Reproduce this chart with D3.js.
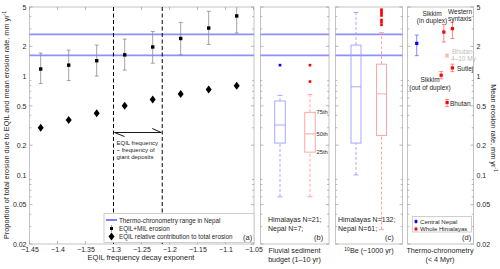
<!DOCTYPE html>
<html><head><meta charset="utf-8">
<script src="https://cdn.jsdelivr.net/npm/d3@7"></script>
<style>body{margin:0;background:#fff}text{font-family:"Liberation Sans",Arial,sans-serif;fill:#262626}</style>
</head><body><svg id="c" width="500" height="269"></svg>
<script>
// ---------- data ----------
const exponents = [-1.43, -1.38, -1.33, -1.28, -1.23, -1.18, -1.13, -1.08];
const eqilMilMean = [1.18, 1.29, 1.43, 1.64, 1.97, 2.40, 3.06, 4.06];
const eqilMilLow  = [0.84, 0.90, 1.00, 1.15, 1.35, 1.64, 2.09, 2.73];
const eqilMilHigh = [1.71, 1.83, 2.06, 2.37, 2.83, 3.49, 4.52, 5.20];
const eqilContribution = [0.30, 0.36, 0.42, 0.50, 0.58, 0.66, 0.73, 0.80];
const giantDepositRange = [-1.30, -1.213];
const thermoNepalRange = [1.62, 2.64];
const xTicks = [-1.45, -1.4, -1.35, -1.3, -1.25, -1.2, -1.15, -1.1, -1.05];
const yTicks = [0.02, 0.05, 0.1, 0.2, 0.5, 1, 2, 5];
const groups = ["Nepal", "Himalayas"];
// box stats: [whiskerLow, q1, median, q3, whiskerHigh]
const fluvialNepal = [0.06, 0.21, 0.32, 0.56, 0.64];
const fluvialHimalaya = [0.06, 0.17, 0.26, 0.43, 0.65];
const fluvialNepalOutliers = [1.29];
const fluvialHimalayaOutliers = [1.29, 0.88];
const beNepal = [0.10, 0.21, 0.78, 2.06, 4.41];
const beHimalaya = [0.028, 0.25, 0.66, 1.32, 2.75];
const beNepalOutliers = [];
const beHimalayaOutliers = [4.7, 4.5, 4.3, 4.1, 3.7, 3.5, 3.3];
const thermoSites = ["Central Nepal", "Sikkim (out of duplex)", "Sikkim (in duplex)", "Bhutan", "Bhutan 4–10 My", "Western syntaxis", "Sutlej"];
const thermoSlot = [0.14, 0.51, 0.55, 0.60, 0.60, 0.68, 0.68];
const thermoMean = [2.14, 1.02, 2.79, 0.54, 1.61, 3.02, 1.21];
const thermoLow  = [1.61, 0.94, 2.21, 0.49, 1.55, 2.40, 1.11];
const thermoHigh = [2.60, 1.11, 3.33, 0.58, 1.68, 3.52, 1.32];
const thermoGroup = ["Nepal", "Himalayas", "Himalayas", "Himalayas", "faded", "Himalayas", "Himalayas"];

// ---------- layout ----------
const svg = d3.select("#c");
const yT = 7, yB = 244;
const P = {a:[29.5,254], b:[260.5,329], c:[335.5,402.5], d:[407.5,473.5]};
const y = d3.scaleLog().domain([0.02, 5]).range([yB, yT]);
const xa = d3.scaleLinear().domain([-1.45, -1.05]).range([29.5, 253.5]);
const frame = "#c4c4c4";
const blueLine = "#8f8fff", blueBox = "#9d9dff", redBox = "#ff9d9d";
const colors = {Nepal:"#0000ff", Himalayas:"#ff0000", faded:"#ffb4b4"};
const clipId = k => "clip"+k;
const defs = svg.append("defs");
Object.entries(P).forEach(([k,[x0,x1]]) => {
  defs.append("clipPath").attr("id", clipId(k)).append("rect").attr("x",x0).attr("y",yT).attr("width",x1-x0).attr("height",yB-yT);
});

const minor = [];
[0.01,0.1,1].forEach(d => { for (let i=2;i<=9;i++){ const v=+(d*i).toFixed(3); if (v>=0.02 && v<=5) minor.push(v);} });

function frameBox(k, leftTicks, rightTicks) {
  const [x0,x1] = P[k];
  const g = svg.append("g");
  g.append("rect").attr("x",x0).attr("y",yT).attr("width",x1-x0).attr("height",yB-yT)
    .attr("fill","none").attr("stroke",frame).attr("stroke-width",1);
  const tk = (x, dir) => {
    minor.forEach(v => g.append("line").attr("x1",x).attr("x2",x+dir*(yTicks.includes(v)?3:1.8))
      .attr("y1",y(v)).attr("y2",y(v)).attr("stroke","#9a9a9a").attr("stroke-width",0.7));
  };
  if (leftTicks) tk(x0, 1);
  if (rightTicks) tk(x1, -1);
  return g;
}
function thermoLines(k) {
  const [x0,x1] = P[k];
  thermoNepalRange.forEach(v => svg.append("line").attr("x1",x0).attr("x2",x1).attr("y1",y(v)).attr("y2",y(v))
    .attr("stroke",blueLine).attr("stroke-width",1.6));
}
function txt(x, yy, s, size, anchor, fill) {
  const t = svg.append("text").attr("x",x).attr("y",yy).attr("font-size",size).text(s);
  if (anchor) t.attr("text-anchor",anchor);
  if (fill) t.style("fill",fill);
  return t;
}

// ---------- panel a ----------
frameBox("a", true, true);
const yAxis = d3.axisLeft(y).tickValues(yTicks).tickFormat(d => d3.format("~g")(d)).tickSize(0).tickPadding(3);
svg.append("g").attr("transform",`translate(${P.a[0]},0)`).call(yAxis)
  .call(g => g.select(".domain").remove())
  .call(g => g.selectAll("text").attr("font-size",7).style("fill","#262626").style("font-family","Liberation Sans, Arial, sans-serif"));
const xAxis = d3.axisBottom(xa).tickValues(xTicks).tickFormat(d => d3.format("~g")(d)).tickSize(0).tickPadding(3);
svg.append("g").attr("transform",`translate(0,${yB})`).call(xAxis)
  .call(g => g.select(".domain").remove())
  .call(g => g.selectAll("text").attr("font-size",7).style("fill","#262626").style("font-family","Liberation Sans, Arial, sans-serif"));
xTicks.forEach(v => {
  svg.append("line").attr("x1",xa(v)).attr("x2",xa(v)).attr("y1",yB).attr("y2",yB-3).attr("stroke","#9a9a9a").attr("stroke-width",0.7);
  svg.append("line").attr("x1",xa(v)).attr("x2",xa(v)).attr("y1",yT).attr("y2",yT+3).attr("stroke","#9a9a9a").attr("stroke-width",0.7);
});
thermoLines("a");
giantDepositRange.forEach(v => svg.append("line").attr("x1",xa(v)).attr("x2",xa(v)).attr("y1",yT).attr("y2",yB)
  .attr("stroke","#000").attr("stroke-width",1).attr("stroke-dasharray","4,2.5"));
const ay = 132.5, ax0 = xa(giantDepositRange[0])+1, ax1 = xa(giantDepositRange[1])-1;
svg.append("path").attr("d",`M${ax0+10},${ay+4}L${ax0},${ay}L${ax1},${ay}L${ax1-9},${ay-4}`)
  .attr("fill","none").attr("stroke","#000").attr("stroke-width",0.9);
txt(ax0+2, 145, "EQIL frequency", 6);
txt(ax0+2, 152, "~  frequency of", 6);
txt(ax0+2, 159, "giant deposits", 6);
const ga = svg.append("g").attr("clip-path",`url(#${clipId("a")})`);
exponents.forEach((e,i) => {
  const x = xa(e);
  ga.append("line").attr("x1",x).attr("x2",x).attr("y1",y(eqilMilLow[i])).attr("y2",y(eqilMilHigh[i])).attr("stroke","#8a8a8a").attr("stroke-width",0.8);
  [eqilMilLow[i], eqilMilHigh[i]].forEach(v => ga.append("line").attr("x1",x-2).attr("x2",x+2).attr("y1",y(v)).attr("y2",y(v)).attr("stroke","#8a8a8a").attr("stroke-width",0.8));
  ga.append("rect").attr("x",x-1.7).attr("y",y(eqilMilMean[i])-1.7).attr("width",3.4).attr("height",3.4).attr("fill","#000");
  const cy = y(eqilContribution[i]);
  ga.append("path").attr("d",`M${x},${cy-4}L${x+3},${cy}L${x},${cy+4}L${x-3},${cy}Z`).attr("fill","#000");
});
svg.append("rect").attr("x",104).attr("y",213.5).attr("width",150).attr("height",29).attr("fill","#fff").attr("stroke",frame).attr("stroke-width",0.8);
svg.append("line").attr("x1",106).attr("x2",117).attr("y1",220).attr("y2",220).attr("stroke","#0000ff").attr("stroke-width",1);
txt(119, 222.5, "Thermo-chronometry range in Nepal", 6.3);
svg.append("line").attr("x1",111.5).attr("x2",111.5).attr("y1",225).attr("y2",232).attr("stroke","#8a8a8a").attr("stroke-width",0.8);
svg.append("rect").attr("x",110).attr("y",227).attr("width",3).attr("height",3).attr("fill","#000");
txt(119, 231, "EQIL+MIL erosion", 6.3);
svg.append("path").attr("d","M111.5,232.5L114.5,236.5L111.5,240.5L108.5,236.5Z").attr("fill","#000");
txt(119, 238.8, "EQIL relative contribution to total erosion", 6.3);
txt(243, 239.5, "(a)", 7.5);

// ---------- box panels ----------
function boxPanel(k, stats, outliers, xs, cols, w) {
  frameBox(k, true, true);
  thermoLines(k);
  const g = svg.append("g").attr("clip-path",`url(#${clipId(k)})`);
  groups.forEach((grp,i) => {
    const s = stats[i], x = xs(grp), c = cols[i];
    g.append("line").attr("x1",x).attr("x2",x).attr("y1",y(s[0])).attr("y2",y(s[1])).attr("stroke",c).attr("stroke-dasharray","3,2").attr("stroke-width",0.9);
    g.append("line").attr("x1",x).attr("x2",x).attr("y1",y(s[3])).attr("y2",y(s[4])).attr("stroke",c).attr("stroke-dasharray","3,2").attr("stroke-width",0.9);
    [s[0], s[4]].forEach(v => g.append("line").attr("x1",x-2.5).attr("x2",x+2.5).attr("y1",y(v)).attr("y2",y(v)).attr("stroke",c).attr("stroke-width",0.9));
    g.append("rect").attr("x",x-w/2).attr("y",y(s[3])).attr("width",w).attr("height",y(s[1])-y(s[3])).attr("fill","none").attr("stroke",c).attr("stroke-width",0.9);
    g.append("line").attr("x1",x-w/2).attr("x2",x+w/2).attr("y1",y(s[2])).attr("y2",y(s[2])).attr("stroke",c).attr("stroke-width",0.9);
    outliers[i].forEach(v => g.append("rect").attr("x",x-1.3).attr("y",y(v)-1.3).attr("width",2.6).attr("height",2.6).attr("fill",i===0?"#0000ff":"#ff0000"));
  });
}
const xb = d3.scalePoint().domain(groups).range([280, 310]);
boxPanel("b", [fluvialNepal, fluvialHimalaya], [fluvialNepalOutliers, fluvialHimalayaOutliers], xb, [blueBox, redBox], 10.5);
["75th","50th","25th"].forEach((s,i) => txt(xb("Himalayas")+6.5, y([fluvialHimalaya[3],fluvialHimalaya[2],fluvialHimalaya[1]][i])+2, s, 5.8));
txt(268, 221.5, "Himalayas N=21;", 7);
txt(268, 231, "Nepal N=7;", 7);
txt(314, 239.5, "(b)", 7.5);
txt(294.5, 253, "Fluvial sediment", 7.2, "middle");
txt(294.5, 261.5, "budget (1–10 yr)", 7.2, "middle");

const xc = d3.scalePoint().domain(groups).range([356, 381.5]);
boxPanel("c", [beNepal, beHimalaya], [beNepalOutliers, beHimalayaOutliers], xc, [blueBox, redBox], 10);
txt(338, 221.5, "Himalayas N=132;", 7);
txt(338, 231, "Nepal N=61;", 7);
txt(385, 239.5, "(c)", 7.5);
const beT = txt(369, 253, "", 7.2, "middle");
beT.append("tspan").attr("font-size",5).attr("dy",-2.5).text("10");
beT.append("tspan").attr("dy",2.5).text("Be (~1000 yr)");

// ---------- panel d ----------
frameBox("d", true, false);
const yR = d3.axisRight(y).tickValues(yTicks).tickFormat(d => d3.format("~g")(d)).tickSize(0).tickPadding(3);
svg.append("g").attr("transform",`translate(${P.d[1]},0)`).call(yR)
  .call(g => g.select(".domain").remove())
  .call(g => g.selectAll("text").attr("font-size",7).style("fill","#262626").style("font-family","Liberation Sans, Arial, sans-serif"));
minor.forEach(v => svg.append("line").attr("x1",P.d[1]).attr("x2",P.d[1]-(yTicks.includes(v)?3:1.8)).attr("y1",y(v)).attr("y2",y(v)).attr("stroke","#9a9a9a").attr("stroke-width",0.7));
const xd = d3.scaleLinear().domain([0,1]).range(P.d);
const gd = svg.append("g");
thermoSites.forEach((s,i) => {
  const x = xd(thermoSlot[i]), c = colors[thermoGroup[i]];
  const ec = thermoGroup[i]==="faded" ? "#ffcccc" : (thermoGroup[i]==="Nepal" ? "#6a6aff" : "#ff6a6a");
  gd.append("line").attr("x1",x).attr("x2",x).attr("y1",y(thermoLow[i])).attr("y2",y(thermoHigh[i])).attr("stroke",ec).attr("stroke-width",0.8);
  [thermoLow[i], thermoHigh[i]].forEach(v => gd.append("line").attr("x1",x-2).attr("x2",x+2).attr("y1",y(v)).attr("y2",y(v)).attr("stroke",ec).attr("stroke-width",0.8));
  gd.append("rect").attr("x",x-1.6).attr("y",y(thermoMean[i])-1.6).attr("width",3.2).attr("height",3.2).attr("fill",c);
});
txt(432, 15.5, "Sikkim", 6.5, "middle");
txt(432, 23, "(in duplex)", 6.5, "middle");
txt(448, 13.5, "Western", 6.5);
txt(448, 21, "syntaxis", 6.5);
txt(452, 53.5, "Bhutan", 6.5, null, "#c0c0c0");
txt(451, 60.5, "4–10 My", 6.5, null, "#c0c0c0");
txt(457, 71, "Sutlej", 6.5);
txt(430, 82, "Sikkim", 6.5, "middle");
txt(430, 90, "(out of duplex)", 6.5, "middle");
txt(450, 105.5, "Bhutan", 6.5);
svg.append("rect").attr("x",412.5).attr("y",216.5).attr("width",59).attr("height",15.5).attr("fill","#fff").attr("stroke",frame).attr("stroke-width",0.8);
[["Central Nepal","Nepal",221.5],["Whole Himalayas","Himalayas",229]].forEach(([s,g,yy]) => {
  svg.append("line").attr("x1",416).attr("x2",416).attr("y1",yy-2.5).attr("y2",yy+2.5).attr("stroke",g==="Nepal"?"#6a6aff":"#ff6a6a").attr("stroke-width",0.8);
  svg.append("rect").attr("x",414.6).attr("y",yy-1.4).attr("width",2.8).attr("height",2.8).attr("fill",colors[g]);
  txt(420, yy+2.2, s, 6.1);
});
txt(462, 239.5, "(d)", 7.5);
txt(440, 253, "Thermo-chronometry", 7.2, "middle");
txt(440, 261.5, "(< 4 Myr)", 7.2, "middle");

// ---------- axis titles ----------
const lt = svg.append("text").attr("transform","translate(9,125) rotate(-90)").attr("text-anchor","middle").attr("font-size",7.3);
lt.append("tspan").text("Proportion of total erosion due to EQIL and mean erosion rate, mm yr");
lt.append("tspan").attr("font-size",5).attr("dy",-3).text("-1");
const rt = svg.append("text").attr("transform","translate(491,128) rotate(90)").attr("text-anchor","middle").attr("font-size",7.3);
rt.append("tspan").text("Mean erosion rate, mm yr");
rt.append("tspan").attr("font-size",5).attr("dy",-3).text("-1");
txt(141, 260, "EQIL frequency decay exponent", 7.5, "middle");
</script></body></html>
